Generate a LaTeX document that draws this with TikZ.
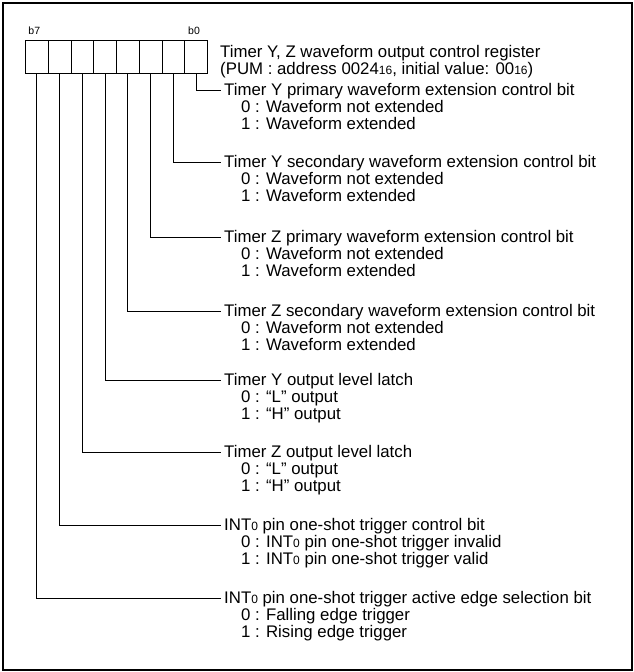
\documentclass[tikz,border=0pt]{standalone}
\usepackage{fontspec}
\setmainfont{Liberation Sans}
\usetikzlibrary{positioning}
\newcommand{\lowsub}[1]{{\fontsize{12}{12}\selectfont #1}}

\begin{document}
\begin{tikzpicture}[x=1pt,y=-1pt]
  \tikzset{
    frame/.style={
      draw,
      line width=2.5pt
    },
    bitcell/.style={
      draw,
      line width=0.8pt,
      minimum width=22.75pt,
      minimum height=33pt,
      inner sep=0pt,
      anchor=north west
    },
    bitname/.style={
      font=\fontsize{10.5}{12}\selectfont,
      inner sep=1pt
    },
    title/.style={
      font=\fontsize{16.8}{17}\selectfont,
      anchor=base west,
      inner sep=3pt
    },
    choice/.style={
      font=\fontsize{16.8}{17}\selectfont,
      anchor=base west,
      inner sep=0pt
    },
    lead/.style={
      draw,
      line width=0.7pt
    }
  }
  \useasboundingbox (0,0) rectangle (634,672);
  \draw[frame] (3,3) rectangle (632,670);

  % Draw the register cells, b7 on the left
  \foreach \i in {0,...,7} {
    \node[bitcell] (c\i) at ({25+(7-\i)*22.75}, 40) {};
  }
  \node[bitname, above=4pt of c7, xshift=-2.5pt] (b7) {b7};
  \node[bitname, above=4pt of c0, xshift=-2pt] (b0) {b0};

  % Register name
  \node[choice] (reg) at (220, 57)
    {Timer Y, Z waveform output control register};
  \node[choice] (pum) at (220, 74)
    {(PUM : address 0024\lowsub{16}, initial value: 00\lowsub{16})};

  % One label per bit
  \foreach \i/\y/\name/\zero/\one in {
    0/90/{Timer Y primary waveform extension control bit}/{0 : Waveform not extended}/{1 : Waveform extended},
    1/162/{Timer Y secondary waveform extension control bit}/{0 : Waveform not extended}/{1 : Waveform extended},
    2/237/{Timer Z primary waveform extension control bit}/{0 : Waveform not extended}/{1 : Waveform extended},
    3/311/{Timer Z secondary waveform extension control bit}/{0 : Waveform not extended}/{1 : Waveform extended},
    4/380/{Timer Y output level latch}/{0 : “L” output}/{1 : “H” output},
    5/452/{Timer Z output level latch}/{0 : “L” output}/{1 : “H” output},
    6/525/{INT\lowsub{0} pin one-shot trigger control bit}/{0 : INT\lowsub{0} pin one-shot trigger invalid}/{1 : INT\lowsub{0} pin one-shot trigger valid},
    7/598/{INT\lowsub{0} pin one-shot trigger active edge selection bit}/{0 : Falling edge trigger}/{1 : Rising edge trigger}
  } {
    \node[title] (l\i) at (221, \y+5) {\name};
    \node[choice] (z\i) at (241, \y+22) {\zero};
    \node[choice] (o\i) at (241, \y+39) {\one};
    \draw[lead] (c\i.south) |- (l\i.west);
  }
\end{tikzpicture}
\end{document}
